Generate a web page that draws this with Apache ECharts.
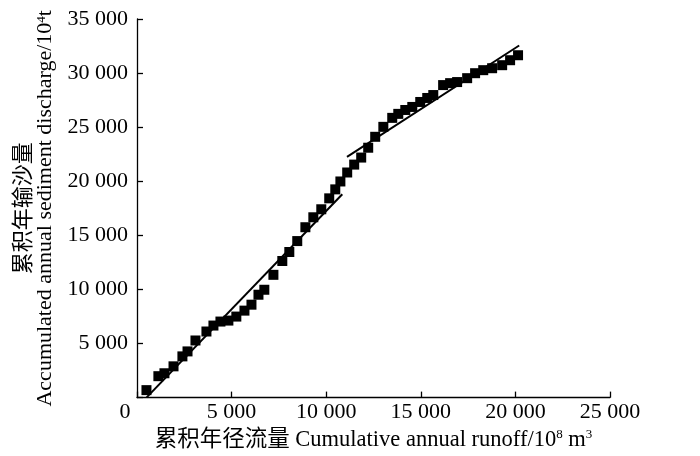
<!DOCTYPE html>
<html>
<head>
<meta charset="utf-8">
<script src="https://cdn.jsdelivr.net/npm/echarts@6/dist/echarts.min.js"></script>
<style>html,body{margin:0;padding:0;background:#fff}#c{width:700px;height:456px}</style>
</head>
<body>
<div id="c"></div>
<script>
// Cumulative annual runoff (10^8 m^3)
var runoff = [500,1130,1450,1930,2400,2670,3090,3670,4040,4410,4830,5250,5680,6050,6420,6730,7210,7680,8050,8470,8900,9320,9740,10160,10480,10750,11110,11480,11850,12220,12590,13020,13490,13810,14180,14550,14970,15340,15660,16180,16550,16920,17450,17870,18300,18770,19300,19720,20140];
// Accumulated annual sediment discharge (10^4 t)
var sediment = [690,1980,2250,2890,3810,4270,5280,6110,6660,7030,7120,7490,8040,8590,9510,9970,11350,12630,13460,14470,15750,16670,17410,18420,19250,19980,20810,21540,22190,23100,24110,25030,25860,26230,26590,26870,27330,27700,27970,28890,29070,29170,29530,29990,30270,30450,30730,31190,31650];
// Fitted trend lines (end points)
var trendLine1 = [[500, 0], [10850, 18800]];
var trendLine2 = [[11100, 22250], [20200, 32550]];
// Axis ranges
var xTicks = [0, 5000, 10000, 15000, 20000, 25000];
var yTicks = [0, 5000, 10000, 15000, 20000, 25000, 30000, 35000];

var FONT = "'Liberation Serif', 'Times New Roman', 'Noto Sans CJK SC', serif";
function fmt(v){ return String(v).replace(/\B(?=(\d{3})+(?!\d))/g, ' '); }

var points = runoff.map(function(x, i){ return [x, sediment[i]]; });

var chart = echarts.init(document.getElementById('c'), null, {renderer: 'canvas'});
chart.setOption({
  animation: false,
  backgroundColor: '#fff',
  grid: {left: 137, right: 90, top: 19, bottom: 56.5, containLabel: false},
  xAxis: {
    type: 'value',
    min: xTicks[0], max: xTicks[xTicks.length-1], interval: 5000,
    splitLine: {show: false},
    axisLine: {lineStyle: {color: '#000', width: 1.3}},
    axisTick: {inside: true, length: 6, lineStyle: {color: '#000', width: 1.3}},
    axisLabel: {
      color: '#000', fontFamily: FONT, fontSize: 22, margin: 4,
      formatter: function(v){ return v === 0 ? '{z|0}' : fmt(v); },
      rich: {z: {fontFamily: FONT, fontSize: 22, color: '#000', padding: [0, 24, 0, 0]}}
    },
    name: '累积年径流量 Cumulative annual runoff/10{sup|8} m{sup|3}',
    nameLocation: 'middle',
    nameGap: 29,
    nameTextStyle: {
      color: '#000', fontFamily: FONT, fontSize: 22.5,
      rich: {sup: {fontFamily: FONT, fontSize: 13, color: '#000', verticalAlign: 'top', lineHeight: 13}}
    }
  },
  yAxis: {
    type: 'value',
    min: yTicks[0], max: yTicks[yTicks.length-1], interval: 5000,
    splitLine: {show: false},
    axisLine: {show: true, lineStyle: {color: '#000', width: 1.3}},
    axisTick: {show: true, inside: true, length: 6, lineStyle: {color: '#000', width: 1.3}},
    axisLabel: {
      color: '#000', fontFamily: FONT, fontSize: 22, margin: 9,
      formatter: function(v){ return v === 0 ? '' : fmt(v); }
    },
    name: '累积年输沙量\nAccumulated annual sediment discharge/10{sup|4}t',
    nameLocation: 'middle',
    nameRotate: 90,
    nameGap: 80,
    nameTextStyle: {
      color: '#000', fontFamily: FONT, fontSize: 22, lineHeight: 21,
      rich: {sup: {fontFamily: FONT, fontSize: 13, color: '#000', verticalAlign: 'top', lineHeight: 13}}
    }
  },
  series: [
    {
      type: 'scatter', data: points, symbol: 'rect', symbolSize: 10,
      itemStyle: {color: '#000', opacity: 1}, z: 2
    },
    {
      type: 'line', data: trendLine1, symbol: 'none',
      lineStyle: {color: '#000', width: 2}, z: 3
    },
    {
      type: 'line', data: trendLine2, symbol: 'none',
      lineStyle: {color: '#000', width: 2}, z: 3
    }
  ]
});
</script>
</body>
</html>
